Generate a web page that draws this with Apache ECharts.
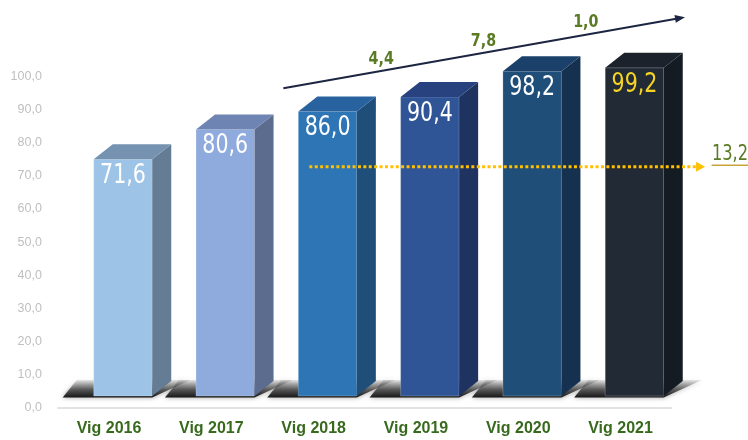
<!DOCTYPE html>
<html><head><meta charset="utf-8">
<script src="https://cdn.jsdelivr.net/npm/echarts@6/dist/echarts.min.js"></script>
<style>html,body{margin:0;padding:0;background:#fff}#c{width:748px;height:440px}</style>
</head><body><div id="c"></div>
<script>
// ---- data ----
const categories = ['Vig 2016', 'Vig 2017', 'Vig 2018', 'Vig 2019', 'Vig 2020', 'Vig 2021'];
const values = [71.6, 80.6, 86.0, 90.4, 98.2, 99.2];
const stepLabels = ['4,4', '7,8', '1,0'];
const stepAfter = [2, 3, 4];
const totalGrowth = '13,2';
const yMin = 0, yMax = 100, yStep = 10;

// ---- styles ----
const frontColors = ['#9DC3E6', '#8FAADC', '#2E75B6', '#2F5597', '#1F4E79', '#222A35'];
const sideColors = ['#647C94', '#5C6C8E', '#1F4E79', '#1F3361', '#15314F', '#151B22'];
const topColors = ['#7592B0', '#6E84B2', '#2863A0', '#28427F', '#1B416A', '#1B222B'];
const labelColors = ['#FFFFFF', '#FFFFFF', '#FFFFFF', '#FFFFFF', '#FFFFFF', '#F5D425'];
const COND = '"DejaVu Sans Condensed", "DejaVu Sans", sans-serif';
const SANS = '"Liberation Sans", Arial, sans-serif';
const fmt = v => v.toFixed(1).replace('.', ',');

function renderBar(params, api) {
  const i = api.value(0), v = api.value(1);
  const bw = api.size([1, 0])[0];
  const p0 = api.coord([i, 0]), p1 = api.coord([i, v]);
  const lift = 11.5;
  const cx = p0[0];
  const fl = cx - 0.15 * bw, fw = 0.572 * bw, fr = fl + fw;
  const dx = 0.186 * bw, dy = 15;
  const yb = p0[1] - lift, yt = p1[1] - lift;
  return {
    type: 'group',
    children: [
      { type: 'polygon', shape: { points: [[fl - 31, yb + 1.5], [fr, yb + 1.5], [fr + dx + 19, yb - dy - 1], [fl - 17, yb - dy - 1]] },
        style: { fill: new echarts.graphic.LinearGradient(0, 0, 0, 1, [
            { offset: 0, color: 'rgba(90,90,90,0.12)' },
            { offset: 0.55, color: 'rgba(45,45,45,0.7)' },
            { offset: 1, color: 'rgba(15,15,15,0.97)' }]),
          shadowBlur: 5, shadowColor: 'rgba(0,0,0,0.4)' } },
      { type: 'rect', shape: { x: fl, y: yt, width: fw, height: yb - yt },
        style: { fill: frontColors[i], stroke: 'rgba(255,255,255,0.22)', lineWidth: 1 } },
      { type: 'polygon', shape: { points: [[fr, yt], [fr + dx, yt - dy], [fr + dx, yb - dy], [fr, yb]] },
        style: { fill: sideColors[i] } },
      { type: 'polygon', shape: { points: [[fl, yt], [fl + dx, yt - dy], [fr + dx, yt - dy], [fr, yt]] },
        style: { fill: topColors[i] } },
      { type: 'text', x: fl + fw / 2, y: yt + 17, scaleX: 0.88,
        style: { text: fmt(v), fill: labelColors[i], fontSize: 26, fontFamily: COND, align: 'center', verticalAlign: 'middle' } }
    ]
  };
}

function renderAnno(params, api) {
  if (params.dataIndex !== 0) return;
  const bw = api.size([1, 0])[0];
  const cxOf = k => api.coord([k, 0])[0];
  const yOf = v => api.coord([0, 0])[1] + (api.coord([0, 100])[1] - api.coord([0, 0])[1]) * v / 100;
  const children = [];
  // trend arrow
  const x1 = cxOf(2) - 0.296 * bw, y1 = yOf(96.5);
  const x2 = cxOf(5) + 0.63 * bw, y2 = yOf(118);
  const a = Math.atan2(y2 - y1, x2 - x1), ca = Math.cos(a), sa = Math.sin(a);
  children.push({ type: 'line', shape: { x1: x1, y1: y1, x2: x2 - 6 * ca, y2: y2 - 6 * sa },
    style: { stroke: '#1C2541', lineWidth: 2 } });
  children.push({ type: 'polygon', shape: { points: [[x2, y2],
      [x2 - 10 * ca - 4 * sa, y2 - 10 * sa + 4 * ca], [x2 - 10 * ca + 4 * sa, y2 - 10 * sa - 4 * ca]] },
    style: { fill: '#1C2541' } });
  const slope = (y2 - y1) / (x2 - x1);
  stepLabels.forEach((t, k) => {
    const lx = cxOf(stepAfter[k]) + 0.66 * bw;
    const ly = y1 + slope * (lx - x1) - 12;
    children.push({ type: 'text', x: lx, y: ly, scaleX: 0.88,
      style: { text: t, fill: '#5A7A23', fontSize: 18, fontWeight: 'bold', fontFamily: COND, align: 'center', verticalAlign: 'middle' } });
  });
  // dotted total-growth arrow
  const yd = yOf(72.8);
  const dx1 = cxOf(2) - 0.042 * bw, dxt = cxOf(5) + 0.826 * bw;
  children.push({ type: 'line', shape: { x1: dx1, y1: yd, x2: dxt - 9, y2: yd },
    style: { stroke: '#FFC000', lineWidth: 3, lineDash: [3, 2.4] } });
  children.push({ type: 'polygon', shape: { points: [[dxt, yd], [dxt - 9, yd - 5], [dxt - 9, yd + 5]] },
    style: { fill: '#FFC000' } });
  children.push({ type: 'line', shape: { x1: cxOf(5) + 0.89 * bw, y1: yd - 1.5, x2: cxOf(5) + 1.26 * bw, y2: yd - 1.5 },
    style: { stroke: '#C9A43A', lineWidth: 1.5 } });
  children.push({ type: 'text', x: cxOf(5) + 1.07 * bw, y: yd - 12, scaleX: 0.86,
    style: { text: totalGrowth, fill: '#5A7A23', fontSize: 21, fontFamily: COND, align: 'center', verticalAlign: 'middle' } });
  return { type: 'group', children: children };
}

const chart = echarts.init(document.getElementById('c'), null, { renderer: 'canvas' });
chart.setOption({
  backgroundColor: '#FFFFFF',
  animation: false,
  grid: { left: 57.9, right: 76.3, top: 76.7, bottom: 32.5 },
  xAxis: {
    type: 'category', data: categories,
    axisLine: { lineStyle: { color: '#D9D9D9', width: 1.5 } },
    axisTick: { show: false },
    axisLabel: { color: '#386A1E', fontSize: 16, fontWeight: 'bold', fontFamily: SANS, margin: 13 }
  },
  yAxis: {
    type: 'value', min: yMin, max: yMax, interval: yStep,
    axisLine: { show: false }, axisTick: { show: false }, splitLine: { show: false },
    axisLabel: { color: '#BFBFBF', fontSize: 12.5, fontFamily: SANS, margin: 16, formatter: v => fmt(v) }
  },
  series: [
    { type: 'custom', name: 'bars', renderItem: renderBar, clip: false, silent: true,
      encode: { x: 0, y: 1 }, data: values.map((v, i) => [i, v]) },
    { type: 'custom', name: 'annotations', renderItem: renderAnno, clip: false, silent: true,
      encode: { x: 0, y: 1 }, data: [[0, 0]] }
  ]
});
</script>
</body></html>
